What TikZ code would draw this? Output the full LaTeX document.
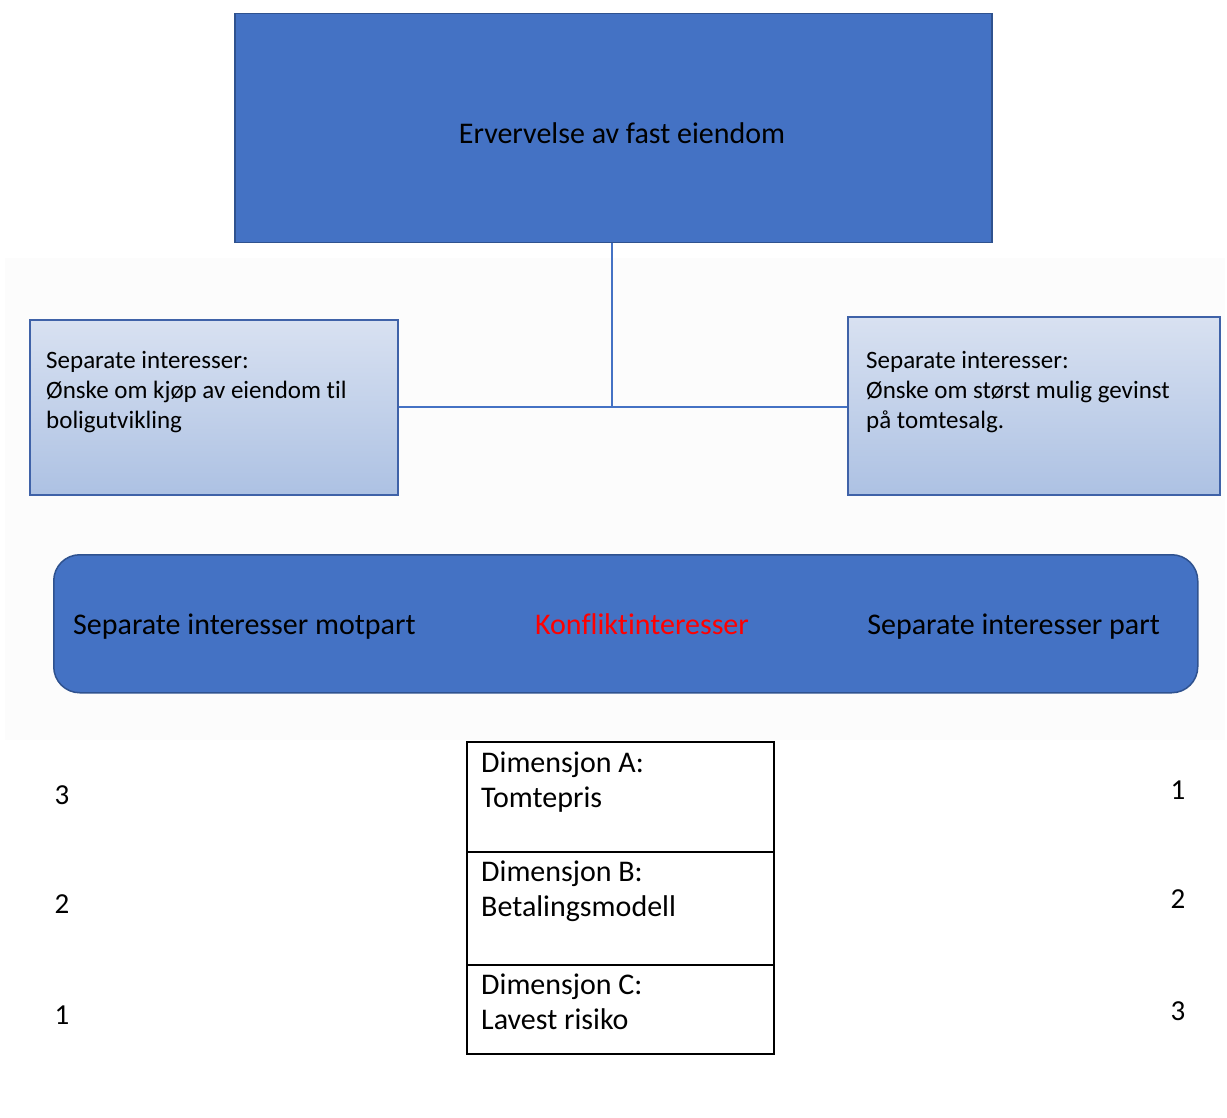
\documentclass[tikz,border=0pt]{standalone}
\usepackage{fontspec}
\setmainfont{Carlito}[Ligatures=NoCommon]
\usetikzlibrary{calc}
\definecolor{accblue}{HTML}{4472C4}
\definecolor{darkblue}{HTML}{2F528F}
\definecolor{edgeblue}{HTML}{3F62A8}
\definecolor{gtop}{HTML}{EEF1F8}
\definecolor{gmid}{HTML}{A7BDE1}
\definecolor{gbot}{HTML}{C3D1EB}
\definecolor{faint}{HTML}{FCFCFC}
\pgfdeclareverticalshading{boxgrad}{100bp}{color(0bp)=(gbot); color(18bp)=(gmid); color(100bp)=(gtop)}
\tikzset{
  bluebox/.style={draw=darkblue, line width=1.5pt, fill=accblue, inner sep=0pt, anchor=north west},
  gradbox/.style={draw=edgeblue, line width=1.5pt, shading=boxgrad, inner sep=0pt, anchor=north west},
  connector/.style={draw=accblue, line width=1.5pt},
  cell/.style={draw=black, line width=1.5pt, fill=white, inner sep=0pt, anchor=north west, minimum width=307pt},
  smalltxt/.style={anchor=north west, align=left, inner sep=0pt, font=\fontsize{25}{30}\selectfont},
  celltxt/.style={anchor=north west, align=left, inner sep=0pt, font=\fontsize{30}{35}\selectfont},
  bandtxt/.style={inner sep=0pt, font=\fontsize{30}{34}\selectfont},
  numtxt/.style={inner sep=0pt, font=\fontsize{29}{32}\selectfont}
}
\begin{document}
\begin{tikzpicture}[x=1pt,y=-1pt]
\useasboundingbox (0,0) rectangle (1227,1118);
\fill[white] (0,0) rectangle (1227,1118);
\fill[faint] (5,258) rectangle (1225,740);
% top box
\node[bluebox, minimum width=757pt, minimum height=229pt] (top) at (234,13) {};
\node[inner sep=0pt, font=\fontsize{30}{34}\selectfont] (toptxt) at (622,133) {Ervervelse av fast eiendom};
% side boxes
\node[gradbox, minimum width=368pt, minimum height=175pt] (left) at (29,319) {};
\node[gradbox, minimum width=372pt, minimum height=178pt] (right) at (847,316) {};
\node[smalltxt] (lefttxt) at (46,351) {Separate interesser:\\Ønske om kjøp av eiendom til\\boligutvikling};
\node[smalltxt] (righttxt) at (866,351) {Separate interesser:\\Ønske om størst mulig gevinst\\på tomtesalg.};
% connectors
\coordinate (junction) at (612,407);
\draw[connector] (top.south -| junction) -- (junction);
\draw[connector] (left.east |- junction) -- (right.west |- junction);
% band
\node[bluebox, rounded corners=26pt, minimum width=1144pt, minimum height=138pt] (band) at (53,554) {};
\node[bandtxt, anchor=base west] (bandL) at (73,634) {Separate interesser motpart};
\node[bandtxt, anchor=base, text=red] (bandC) at (642,634) {Konfliktinteresser};
\node[bandtxt, anchor=base east] (bandR) at (1160,634) {Separate interesser part};
% table
\node[cell, minimum height=110pt] (cellA) at (466,741) {};
\node[cell, minimum height=113pt] (cellB) at (466,851) {};
\node[cell, minimum height=89pt] (cellC) at (466,964) {};
\node[celltxt] (txtA) at (481,752) {Dimensjon A:\\Tomtepris};
\node[celltxt] (txtB) at (481,861) {Dimensjon B:\\Betalingsmodell};
\node[celltxt] (txtC) at (481,974) {Dimensjon C:\\Lavest risiko};
% numbers
\node[numtxt] (l3) at (62,795) {3};
\node[numtxt] (l2) at (62,904) {2};
\node[numtxt] (l1) at (62,1015) {1};
\node[numtxt] (r1) at (1178,790) {1};
\node[numtxt] (r2) at (1178,899) {2};
\node[numtxt] (r3) at (1178,1011) {3};
\end{tikzpicture}
\end{document}
